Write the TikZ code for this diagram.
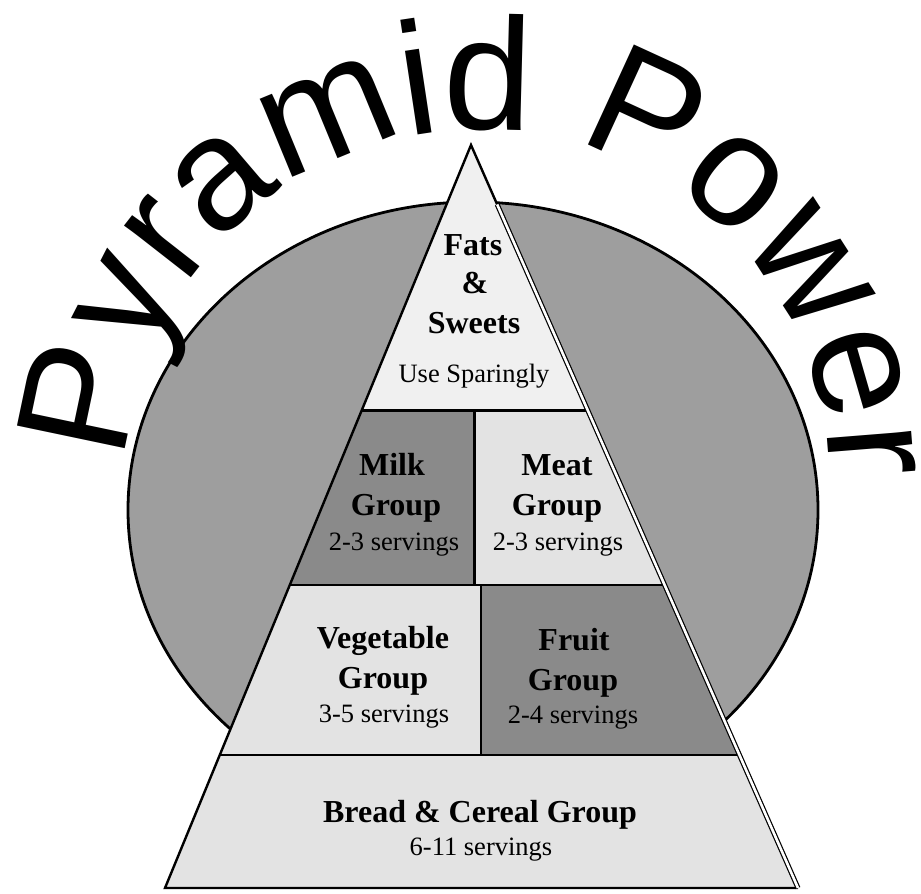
\documentclass[tikz,border=0pt]{standalone}
\usepackage{fontspec}
\setmainfont{Liberation Serif}
\newfontfamily\titlefont{Liberation Sans}
\usetikzlibrary{calc,decorations.text}
\tikzset{
  outline/.style  = {line width=2.4pt, line join=miter},
  divider/.style  = {line width=2.6pt},
  disc/.style     = {draw, line width=2.8pt, fill=black!38},
  topband/.style  = {fill=black!6},
  paleband/.style = {fill=black!11},
  darkband/.style = {fill=black!46},
  head/.style     = {anchor=base, inner sep=0pt, font=\bfseries\fontsize{32}{34}\selectfont},
  serv/.style     = {anchor=base, inner sep=0pt, font=\fontsize{26.5}{28}\selectfont},
}

\begin{document}
\begin{tikzpicture}[x=1pt,y=-1pt]
  \useasboundingbox (0,0) rectangle (921,894);
  % backdrop
  \draw[disc] (473,510) ellipse [x radius=345, y radius=308];

  \coordinate (apex) at (471,145);
  \coordinate (bl) at (165,888);
  \coordinate (br) at (798,888);
  \coordinate (l1) at ($(apex)!0.357!(bl)$);
  \coordinate (r1) at ($(apex)!0.357!(br)$);
  \coordinate (l2) at ($(apex)!0.592!(bl)$);
  \coordinate (r2) at ($(apex)!0.592!(br)$);
  \coordinate (l3) at ($(apex)!0.821!(bl)$);
  \coordinate (r3) at ($(apex)!0.821!(br)$);
  \coordinate (c1) at ($(l1)!0.5!(r1)$);
  \coordinate (c1b) at (c1 |- l2);
  \coordinate (c2) at ($(l2)!0.51!(r2)$);
  \coordinate (c2b) at (c2 |- l3);
  \coordinate (rs) at ($(apex)!0.08!(br)$);

  % bands
  \fill[topband]  (apex) -- (r1) -- (l1) -- cycle;
  \fill[darkband] (l1) -- (c1) -- (c1b) -- (l2) -- cycle;
  \fill[paleband] (c1) -- (r1) -- (r2) -- (c1b) -- cycle;
  \fill[paleband] (l2) -- (c2) -- (c2b) -- (l3) -- cycle;
  \fill[darkband] (c2) -- (r2) -- (r3) -- (c2b) -- cycle;
  \fill[paleband] (l3) -- (r3) -- (br) -- (bl) -- cycle;

  \draw[divider] (l1) -- (r1) (l2) -- (r2) (l3) -- (r3) (c1) -- (c1b) (c2) -- (c2b);
  \draw[outline] (br) -- (bl) -- (apex) -- (br);
  \draw[line width=1.2pt, double=white, double distance=2.6pt] (rs) -- (br);

  \node[head] (fats)    at (473,255) {Fats};
  \node[head] (amp)     at (475,293) {\&};
  \node[head] (sweets)  at (474,333) {Sweets};
  \node[serv] (sparing) at (474,382) {Use Sparingly};

  \node[head] (milk)     at (392,475) {Milk};
  \node[head] (milkgrp)  at (396,515) {Group};
  \node[serv] (milksrv)  at (394,550) {2-3 servings};
  \node[head] (meat)     at (557,475) {Meat};
  \node[head] (meatgrp)  at (557,515) {Group};
  \node[serv] (meatsrv)  at (558,550) {2-3 servings};

  \node[head] (veg)       at (383,648) {Vegetable};
  \node[head] (veggrp)    at (383,688) {Group};
  \node[serv] (vegsrv)    at (384,722) {3-5 servings};
  \node[head] (fruit)     at (574,650) {Fruit};
  \node[head] (fruitgrp)  at (573,690) {Group};
  \node[serv] (fruitsrv)  at (573,723) {2-4 servings};

  \node[head] (bread)    at (480,822) {Bread \& Cereal Group};
  \node[serv] (breadsrv) at (481,855) {6-11 servings};

  % title round the top
  \path[decorate, decoration={text along path, text align=center,
      text={|\titlefont\fontsize{160}{160}\selectfont|Pyramid Power}}]
    (478,482) ++(181:352) arc [start angle=181, end angle=362, radius=352];
\end{tikzpicture}
\end{document}
